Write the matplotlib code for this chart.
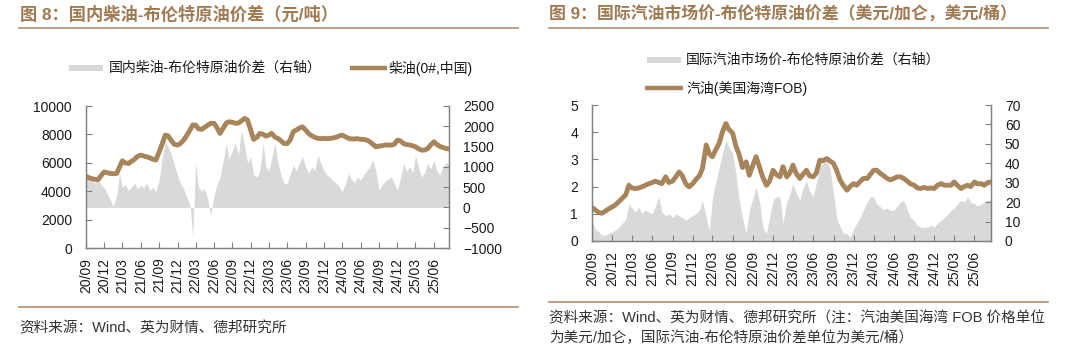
import matplotlib
matplotlib.use("Agg")
import matplotlib.pyplot as plt
import matplotlib.dates as mdates
from matplotlib.lines import Line2D
from matplotlib.patches import Rectangle
import pandas as pd

plt.rcParams['font.family'] = ['Liberation Sans', 'Noto Sans CJK SC', 'DejaVu Sans']

# ---------------- data (semi-monthly, Sep 2020 - Aug 2025) ----------------
start_date = "2020-09-01"
n_points = 120

# Chart 8: diesel price (yuan/t, left axis)
diesel_price = [
    5060, 4950, 4880, 4830, 4820, 5100, 5360, 5300, 5250, 5230, 5250, 5700,
    6140, 6000, 5950, 6100, 6250, 6450, 6540, 6480, 6420, 6350, 6250, 6190,
    6780, 7300, 7950, 7900, 7550, 7300, 7250, 7350, 7600, 7900, 8300, 8660,
    8660, 8400, 8350, 8500, 8650, 8780, 8780, 8500, 8070, 8400, 8800, 8890,
    8850, 8780, 8800, 8950, 9130, 9000, 8300, 7650, 7800, 8070, 8000, 7880,
    7950, 8070, 7800, 7720, 7550, 7360, 7360, 7600, 8190, 8300, 8450, 8540,
    8300, 8070, 7900, 7800, 7720, 7700, 7720, 7700, 7720, 7750, 7800, 7900,
    7950, 7850, 7720, 7680, 7680, 7700, 7650, 7650, 7600, 7500, 7300, 7130,
    7180, 7200, 7250, 7250, 7250, 7300, 7600, 7550, 7350, 7290, 7250, 7200,
    7130, 7000, 6890, 6900, 7000, 7250, 7480, 7300, 7150, 7080, 7000, 6980,
]
# Chart 8: domestic diesel - Brent spread (yuan/t, right axis)
diesel_spread = [
    670, 720, 650, 600, 700, 560, 480, 350, 180, 20, 300, 840,
    500, 560, 420, 500, 600, 450, 550, 480, 600, 420, 500, 380,
    700, 1200, 1620, 1500, 1300, 1050, 800, 600, 450, 250, 80, -720,
    1085, 500, 400, 450, 200, -190, 300, 550, 750, 1100, 1580, 1200,
    1400, 1580, 1300, 1900, 1500, 1100, 1250, 800, 750, 900, 1580, 1000,
    900, 1200, 1580, 1100, 800, 600, 590, 800, 1040, 900, 1100, 1250,
    1000, 850, 1000, 900, 1290, 1100, 900, 800, 750, 650, 600, 500,
    390, 550, 840, 700, 600, 750, 670, 800, 900, 1000, 1170, 900,
    430, 550, 650, 700, 750, 600, 430, 700, 1085, 900, 1000, 850,
    1290, 1000, 750, 850, 1085, 950, 1150, 900, 800, 1000, 1100, 1050,
]

# Chart 9: US Gulf gasoline FOB (USD/gal, left axis)
gasoline_price = [
    1.23, 1.15, 1.05, 1.02, 1.10, 1.18, 1.25, 1.32, 1.45, 1.56, 1.70, 2.05,
    1.95, 1.93, 1.95, 1.99, 2.05, 2.10, 2.15, 2.20, 2.15, 2.11, 2.36, 2.15,
    2.20, 2.35, 2.54, 2.40, 2.10, 1.99, 2.10, 2.25, 2.40, 2.67, 3.53, 3.20,
    3.10, 3.34, 3.60, 4.00, 4.32, 4.10, 3.96, 3.50, 3.16, 2.70, 2.91, 2.42,
    2.80, 3.10, 2.70, 2.35, 2.05, 2.20, 2.60, 2.45, 2.36, 2.73, 2.36, 2.50,
    2.79, 2.50, 2.30, 2.45, 2.60, 2.40, 2.36, 2.50, 2.97, 2.95, 3.03, 2.95,
    2.85, 2.60, 2.24, 2.05, 1.87, 2.00, 2.11, 2.05, 2.20, 2.30, 2.30, 2.45,
    2.60, 2.60, 2.48, 2.40, 2.30, 2.25, 2.30, 2.36, 2.36, 2.30, 2.20, 2.10,
    2.05, 1.95, 1.93, 1.97, 1.93, 1.95, 1.93, 2.05, 2.11, 2.05, 2.05, 2.05,
    2.17, 2.05, 1.93, 2.00, 2.05, 2.00, 2.17, 2.10, 2.11, 2.05, 2.15, 2.17,
]
# Chart 9: international gasoline - Brent spread (USD/bbl, right axis)
gasoline_spread = [
    10.7, 6.0, 5.0, 3.0, 3.0, 4.0, 4.6, 5.5, 7.0, 9.0, 11.0, 19.0,
    17.0, 15.0, 17.5, 14.0, 16.0, 15.0, 14.0, 18.0, 22.7, 15.0, 13.0, 14.0,
    12.0, 14.0, 13.0, 12.0, 10.7, 12.0, 13.0, 14.0, 15.8, 21.0, 12.0, 5.5,
    22.0, 29.6, 38.0, 45.0, 52.0, 48.0, 45.0, 35.0, 21.0, 12.0, 3.8, 15.8,
    22.0, 27.9, 20.0, 7.2, 3.8, 12.0, 21.0, 22.7, 22.7, 9.0, 20.0, 24.0,
    29.6, 25.0, 21.0, 27.0, 31.0, 26.0, 22.7, 30.0, 38.0, 40.0, 41.6, 38.0,
    24.4, 12.0, 7.2, 4.0, 3.8, 2.0, 6.0, 9.0, 12.4, 16.0, 20.0, 22.7,
    22.7, 19.0, 17.5, 16.0, 17.0, 15.8, 15.8, 18.0, 20.0, 21.0, 16.0, 12.0,
    10.7, 8.0, 7.2, 7.0, 7.2, 8.0, 7.2, 9.0, 10.7, 12.0, 14.0, 15.8,
    17.0, 19.0, 21.0, 20.0, 22.7, 20.0, 19.3, 18.0, 19.0, 20.0, 21.0, 21.0,
]

dates = pd.date_range(start_date, periods=n_points, freq="SMS")
tick_dates = pd.date_range("2020-09-01", "2025-06-01", freq="3MS")

title8 = "图 8：国内柴油-布伦特原油价差（元/吨）"
title9 = "图 9：国际汽油市场价-布伦特原油价差（美元/加仑，美元/桶）"
legend8 = ["国内柴油-布伦特原油价差（右轴）", "柴油(0#,中国)"]
legend9 = ["国际汽油市场价-布伦特原油价差（右轴）", "汽油(美国海湾FOB)"]
source8 = "资料来源：Wind、英为财情、德邦研究所"
source9 = ["资料来源：Wind、英为财情、德邦研究所（注：汽油美国海湾 FOB 价格单位",
           "为美元/加仑，国际汽油-布伦特原油价差单位为美元/桶）"]

# ---------------- style ----------------
BROWN = "#A8845B"
TITLE_C = "#A07A52"
RULE_C = "#B8997A"
GRAY = "#D9D9D9"
SPINE_C = "#808080"
TXT_C = "#1a1a1a"
FOOT_C = "#333333"

W, H = 1080, 351
fig = plt.figure(figsize=(W / 100, H / 100), dpi=100)


def fx(px):
    return px / W


def fy(py):
    return 1 - py / H


def style_axes(ax, ax2, xpad):
    for a in (ax, ax2):
        a.spines["top"].set_visible(False)
        for s in ("left", "right", "bottom"):
            a.spines[s].set_color(SPINE_C)
            a.spines[s].set_linewidth(0.9)
        a.tick_params(axis="both", direction="in", length=4, color=SPINE_C,
                      labelsize=10, labelcolor=TXT_C, pad=10)
    ax.tick_params(axis="x", pad=xpad)
    ax.set_xticks(tick_dates)
    ax.xaxis.set_major_formatter(mdates.DateFormatter("%y/%m"))
    for lab in ax.get_xticklabels():
        lab.set_rotation(90)
    ax.set_xlim(dates[0], dates[-1])


def rule(x0, x1, y):
    fig.add_artist(Line2D([fx(x0), fx(x1)], [fy(y), fy(y)],
                          transform=fig.transFigure, color=RULE_C, lw=1.3))


def leg_patch(x0, x1, y, h=6):
    fig.add_artist(Rectangle((fx(x0), fy(y + h / 2)), (x1 - x0) / W, h / H,
                             transform=fig.transFigure, facecolor=GRAY,
                             edgecolor="none"))


def leg_line(x0, x1, y):
    fig.add_artist(Line2D([fx(x0), fx(x1)], [fy(y), fy(y)],
                          transform=fig.transFigure, color=BROWN, lw=3.2,
                          solid_capstyle="butt"))


# ---------------- chart 8 ----------------
ax1 = fig.add_axes([fx(86), fy(248), (449 - 86) / W, (248 - 106) / H])
ax1b = ax1.twinx()
ax1b.fill_between(dates, 0, diesel_spread, color=GRAY, lw=0)
ax1.plot(dates, diesel_price, color=BROWN, lw=3.5, solid_joinstyle="round")
ax1.set_zorder(ax1b.get_zorder() + 1)
ax1.patch.set_visible(False)
ax1.set_ylim(0, 10000)
ax1.set_yticks(range(0, 10001, 2000))
ax1b.set_ylim(-1000, 2500)
ax1b.set_yticks(range(-1000, 2501, 500))
style_axes(ax1, ax1b, 7)

fig.text(fx(20), fy(14), title8, fontsize=12.4, fontweight="bold", color=TITLE_C,
         va="center", ha="left")
rule(19, 518, 28)
leg_patch(69, 103, 68)
fig.text(fx(109), fy(68), legend8[0], fontsize=10, color=TXT_C, va="center")
leg_line(350, 387, 68)
fig.text(fx(389), fy(68), legend8[1], fontsize=10, color=TXT_C, va="center")
rule(19, 518, 307)
fig.text(fx(19), fy(328), source8, fontsize=10.5, color=FOOT_C, va="center")

# ---------------- chart 9 ----------------
ax2 = fig.add_axes([fx(592), fy(241), (991 - 592) / W, (241 - 105) / H])
ax2b = ax2.twinx()
ax2b.fill_between(dates, 0, gasoline_spread, color=GRAY, lw=0)
ax2.plot(dates, gasoline_price, color=BROWN, lw=3.5, solid_joinstyle="round")
ax2.set_zorder(ax2b.get_zorder() + 1)
ax2.patch.set_visible(False)
ax2.set_ylim(0, 5)
ax2.set_yticks(range(0, 6))
ax2b.set_ylim(0, 70)
ax2b.set_yticks(range(0, 71, 10))
style_axes(ax2, ax2b, 7)

fig.text(fx(549), fy(14), title9, fontsize=12.2, fontweight="bold", color=TITLE_C,
         va="center", ha="left")
rule(549, 1048, 28)
leg_patch(647, 681, 60)
fig.text(fx(686), fy(60), legend9[0], fontsize=10, color=TXT_C, va="center")
leg_line(645, 683, 88)
fig.text(fx(686), fy(88), legend9[1], fontsize=10, color=TXT_C, va="center")
rule(549, 1048, 302)
fig.text(fx(549), fy(318), source9[0], fontsize=10.5, color=FOOT_C, va="center")
fig.text(fx(549), fy(338), source9[1], fontsize=10.5, color=FOOT_C, va="center")

fig.savefig("out.png", dpi=100, facecolor="white")
